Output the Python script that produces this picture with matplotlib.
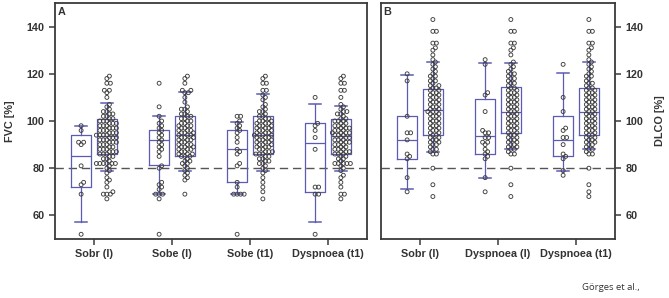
import numpy as np
import matplotlib
matplotlib.use("Agg")
import matplotlib.pyplot as plt

plt.rcParams['font.family'] = ['Liberation Sans', 'DejaVu Sans']

# ---------------- data ----------------
fvc_categories = ["Sobr (I)", "Sobe (I)", "Sobe (t1)", "Dyspnoea (t1)"]
dlco_categories = ["Sobr (I)", "Dyspnoea (I)", "Dyspnoea (t1)"]

# FVC [%] - symptomatic group (left box)
fvc_sobr_I_pat = [98, 96, 91, 91, 90, 81, 74, 73, 69, 52]
fvc_sobe_I_pat = [116, 106, 102, 100, 99, 98, 97, 96, 95, 94, 93, 92, 91, 90, 89, 88, 87,
                  85, 81, 80, 74, 73, 72, 71, 69, 69, 69, 67, 52]
fvc_sobe_t1_pat = [102, 102, 100, 99, 98, 97, 96, 95, 93, 91, 88, 87, 86, 82, 81, 74, 72,
                   69, 69, 69, 69, 52]
fvc_dysp_t1_pat = [110, 99, 98, 96, 93, 88, 72, 72, 69, 69, 52]

# FVC [%] - asymptomatic group (right box)
fvc_sobr_I_ctrl = [119, 118, 116, 116, 113, 113, 112, 110, 107, 106, 105, 104, 104, 103, 103,
                   102, 102, 101, 101, 100, 100, 100, 99, 99, 99, 98, 98, 98, 97, 97, 97, 96,
                   96, 96, 95, 95, 95, 94, 94, 94, 94, 93, 93, 93, 92, 92, 92, 91, 91, 91, 90,
                   90, 90, 89, 89, 88, 88, 88, 87, 87, 87, 86, 86, 86, 85, 85, 84, 84, 83, 82,
                   82, 82, 82, 82, 82, 81, 80, 79, 78, 76, 75, 74, 72, 70, 69, 69, 69, 67]
fvc_sobe_I_ctrl = [119, 118, 116, 113, 113, 112, 112, 110, 108, 106, 105, 105, 104, 103, 103,
                   102, 102, 101, 101, 100, 100, 99, 99, 98, 98, 98, 97, 97, 96, 96, 96, 95,
                   95, 95, 94, 94, 94, 93, 93, 93, 92, 92, 92, 91, 91, 90, 90, 90, 89, 89, 89,
                   88, 88, 88, 87, 87, 86, 86, 86, 85, 85, 85, 84, 83, 83, 82, 82, 81, 80, 79,
                   78, 77, 76, 75, 69]
fvc_sobe_t1_ctrl = [119, 118, 116, 116, 113, 113, 111, 110, 109, 107, 106, 105, 104, 104, 103,
                    102, 102, 101, 101, 100, 100, 100, 99, 99, 99, 98, 98, 98, 97, 97, 97, 96,
                    96, 96, 95, 95, 95, 94, 94, 94, 94, 93, 93, 93, 92, 92, 92, 91, 91, 91, 90,
                    90, 90, 89, 89, 89, 88, 88, 87, 87, 87, 86, 86, 86, 85, 85, 84, 84, 83, 83,
                    82, 82, 81, 80, 79, 78, 76, 74, 72, 70, 67]
fvc_dysp_t1_ctrl = [119, 118, 116, 116, 113, 113, 110, 107, 106, 105, 104, 104, 103, 103, 102,
                    101, 101, 100, 100, 100, 99, 99, 98, 98, 98, 97, 97, 97, 96, 96, 96, 95,
                    95, 95, 95, 94, 94, 94, 93, 93, 93, 92, 92, 92, 91, 91, 91, 90, 90, 90, 89,
                    89, 88, 88, 88, 87, 87, 87, 86, 86, 86, 85, 85, 84, 84, 83, 82, 82, 82, 82,
                    82, 81, 80, 79, 77, 76, 74, 72, 69, 69, 67]

# DLCO [%]
dlco_sobr_I_pat = [120, 117, 102, 95, 95, 92, 86, 85, 84, 76, 70]
dlco_dysp_I_pat = [126, 124, 112, 111, 104, 96, 95, 95, 93, 93, 91, 91, 90, 88, 87, 86, 85,
                   84, 76, 70]
dlco_dysp_t1_pat = [124, 110, 104, 97, 96, 93, 93, 90, 86, 85, 84, 79, 77]

dlco_sobr_I_ctrl = [143, 138, 138, 133, 133, 131, 130, 128, 126, 125, 124, 123, 122, 121, 120,
                    119, 119, 118, 117, 117, 116, 115, 115, 114, 114, 113, 113, 112, 112, 111,
                    111, 110, 110, 109, 109, 108, 108, 107, 107, 106, 106, 105, 105, 104, 104,
                    104, 103, 103, 102, 102, 101, 101, 100, 100, 99, 99, 98, 98, 97, 97, 96,
                    96, 95, 95, 94, 94, 93, 93, 92, 92, 91, 91, 90, 90, 89, 88, 88, 87, 86, 86,
                    80, 73, 68]
dlco_dysp_I_ctrl = [143, 138, 138, 133, 133, 131, 130, 128, 125, 124, 123, 122, 121, 120, 120,
                    119, 118, 118, 117, 116, 116, 115, 114, 114, 113, 113, 112, 112, 111, 111,
                    110, 110, 109, 109, 108, 108, 107, 107, 106, 106, 105, 105, 104, 104, 103,
                    103, 102, 102, 101, 101, 100, 100, 99, 99, 98, 98, 97, 97, 96, 96, 95, 95,
                    94, 94, 93, 93, 92, 92, 91, 91, 90, 90, 89, 89, 88, 88, 87, 86, 86, 80, 73,
                    68]
dlco_dysp_t1_ctrl = [143, 138, 138, 133, 133, 131, 130, 128, 126, 125, 124, 123, 122, 121, 120,
                     119, 119, 118, 117, 116, 116, 115, 114, 114, 113, 113, 112, 112, 111, 111,
                     110, 110, 109, 109, 108, 108, 107, 107, 106, 106, 105, 105, 104, 104, 103,
                     103, 102, 102, 101, 101, 100, 100, 99, 99, 98, 98, 97, 97, 96, 96, 95, 95,
                     94, 94, 93, 93, 92, 92, 91, 91, 90, 90, 89, 88, 88, 87, 86, 86, 80, 73, 70,
                     68]

# box statistics: (lower whisker, Q1, median, Q3, upper whisker)
fvc_box_pat = [(57, 72, 85, 94, 98), (69, 81.5, 92, 96, 102), (69, 74, 88, 96, 99.5),
               (57, 70, 90.5, 99, 107)]
fvc_box_ctrl = [(79, 86, 93.5, 101, 107.5), (79, 85, 94, 102, 112.5), (79, 86, 94, 102, 111.5),
                (79, 86, 93.5, 101, 106.5)]
dlco_box_pat = [(71, 84, 92, 102, 119.5), (76, 86, 93.5, 109.5, 124.5), (79, 85, 92, 102, 120.5)]
dlco_box_ctrl = [(87, 94, 104.5, 113.5, 125), (88, 95, 104, 114.5, 124.5),
                 (88, 94, 104, 114, 125)]

threshold = 80

# ---------------- style ----------------
W, H = 669, 298
BOX_C = '#5b5bb5'
PT_C = '#3f3f3f'
SPINE_C = '#3a3a3a'
OFF = 0.165
BW = 0.26
FS = 7.8

fig = plt.figure(figsize=(W / 100, H / 100), dpi=100)
axA = fig.add_axes([55 / W, 1 - 239 / H, 312 / W, 236 / H])
axB = fig.add_axes([381 / W, 1 - 239 / H, 234 / W, 236 / H])


def swarm_offsets(vals, px_per_x, px_per_y, d=3.4):
    vals = np.asarray(vals, float)
    order = np.argsort(vals)
    placed = []
    offs = np.zeros(len(vals))
    cands = [0.0]
    step = 0.5
    for k in range(1, 60):
        cands += [k * step, -k * step]
    for i in order:
        y = vals[i] * px_per_y
        for c in cands:
            ok = True
            for (px, py) in placed:
                if (px - c) ** 2 + (py - y) ** 2 < d * d:
                    ok = False
                    break
            if ok:
                break
        placed.append((c, y))
        offs[i] = c / px_per_x
    return offs


def draw_panel(ax, cats, pats, ctrls, box_pat, box_ctrl, width_px):
    n = len(cats)
    ax.set_xlim(-0.5, n - 0.5)
    ax.set_ylim(50, 150)
    pxx = width_px / n
    pxy = 236 / 100
    stats = []
    pos = []
    for i in range(n):
        for b, p in ((box_pat[i], i - OFF), (box_ctrl[i], i + OFF)):
            stats.append(dict(whislo=b[0], q1=b[1], med=b[2], q3=b[3], whishi=b[4]))
            pos.append(p)
    ax.bxp(stats, positions=pos, widths=BW, showfliers=False, capwidths=0.15,
           boxprops=dict(color=BOX_C, lw=0.9), whiskerprops=dict(color=BOX_C, lw=0.9),
           capprops=dict(color=BOX_C, lw=1.1), medianprops=dict(color=BOX_C, lw=0.9),
           manage_ticks=False, zorder=2)
    for i in range(n):
        for vals, p in ((pats[i], i - OFF), (ctrls[i], i + OFF)):
            offs = swarm_offsets(vals, pxx, pxy)
            ax.scatter(p + offs, vals, s=8, facecolors='none', edgecolors=PT_C,
                       linewidths=0.65, zorder=3)
    ax.axhline(threshold, color='#555555', lw=1.0, dashes=(6, 3.5), zorder=1)
    ax.set_xticks(range(n))
    ax.set_xticklabels(cats, fontsize=FS, fontweight='bold', color='#333333')
    ax.set_yticks([60, 80, 100, 120, 140])
    for s in ax.spines.values():
        s.set_color(SPINE_C)
        s.set_linewidth(1.3)
    ax.tick_params(axis='both', colors=SPINE_C, width=1.1, length=4, labelsize=FS,
                   labelcolor='#333333')
    for t in ax.get_yticklabels():
        t.set_fontweight('bold')


draw_panel(axA, fvc_categories,
           [fvc_sobr_I_pat, fvc_sobe_I_pat, fvc_sobe_t1_pat, fvc_dysp_t1_pat],
           [fvc_sobr_I_ctrl, fvc_sobe_I_ctrl, fvc_sobe_t1_ctrl, fvc_dysp_t1_ctrl],
           fvc_box_pat, fvc_box_ctrl, 312)
draw_panel(axB, dlco_categories,
           [dlco_sobr_I_pat, dlco_dysp_I_pat, dlco_dysp_t1_pat],
           [dlco_sobr_I_ctrl, dlco_dysp_I_ctrl, dlco_dysp_t1_ctrl],
           dlco_box_pat, dlco_box_ctrl, 234)

axB.yaxis.tick_right()
axB.yaxis.set_label_position('right')
for t in axB.get_yticklabels():
    t.set_fontweight('bold')

axA.set_ylabel('FVC [%]', fontsize=FS, fontweight='bold', color='#333333', labelpad=8)
axB.set_ylabel('DLCO [%]', fontsize=FS, fontweight='bold', color='#333333', labelpad=8)

axA.text(0.008, 0.985, 'A', transform=axA.transAxes, ha='left', va='top',
         fontsize=FS, fontweight='bold', color='#333333')
axB.text(0.01, 0.985, 'B', transform=axB.transAxes, ha='left', va='top',
         fontsize=FS, fontweight='bold', color='#333333')

fig.text(582 / W, 1 - 287 / H, 'Görges et al.,', ha='left', va='center',
         fontsize=6.8, color='#333333', family=['Open Sans', 'DejaVu Sans'])

fig.savefig('out.png', dpi=100)
